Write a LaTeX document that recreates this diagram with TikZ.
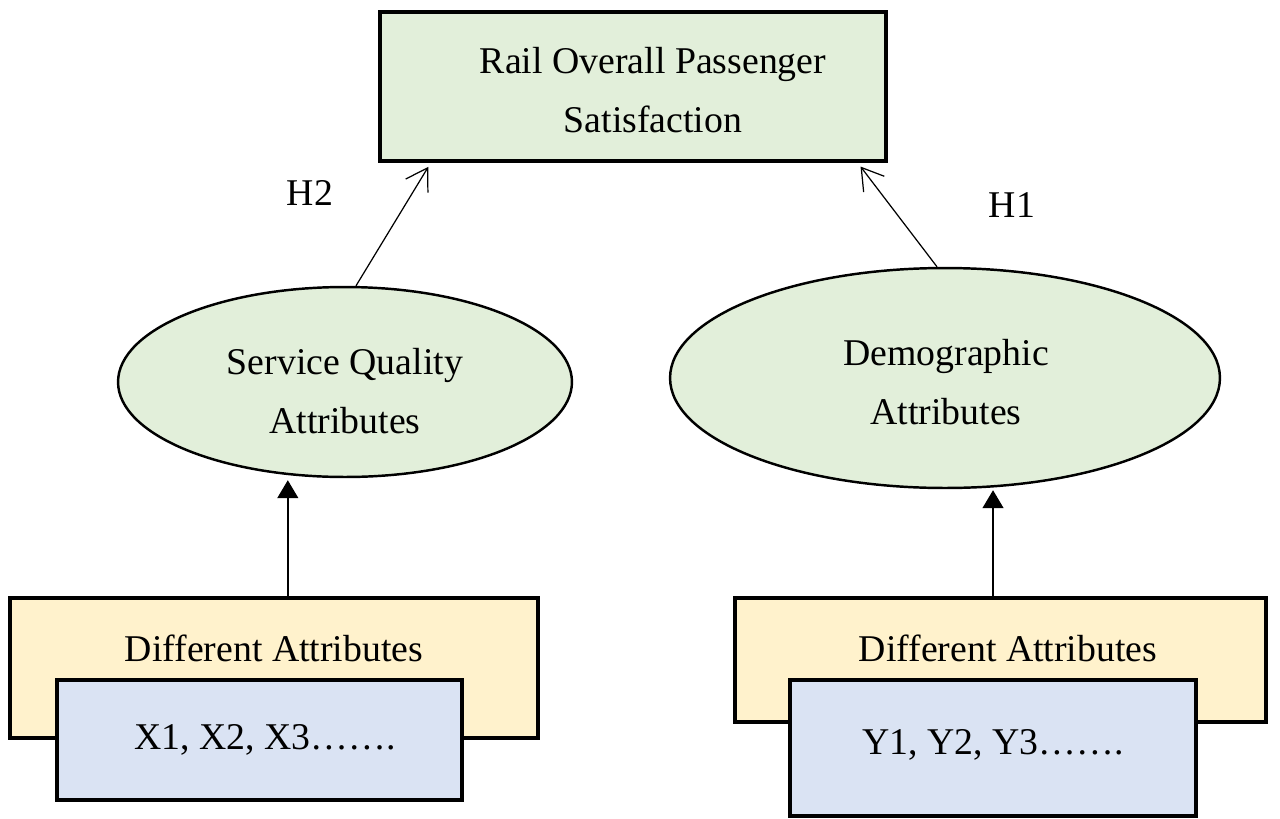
\documentclass[tikz,border=0pt]{standalone}
\usepackage{fontspec}
\setmainfont{Liberation Serif}
\usetikzlibrary{arrows.meta,shapes.geometric,calc}
\definecolor{boxgreen}{HTML}{E2EFDA}
\definecolor{boxyellow}{HTML}{FFF2CC}
\definecolor{boxblue}{HTML}{DAE3F3}
\begin{document}
\begin{tikzpicture}[x=0.02cm,y=-0.02cm,
  every node/.style={font=\fontsize{21.5}{34}\selectfont, align=center},
  rectbox/.style={draw=black, line width=1.8pt, rectangle, inner sep=0pt},
  ellbox/.style={draw=black, line width=1.4pt, ellipse, fill=boxgreen, inner sep=0pt},
  plain/.style={inner sep=0pt},
  openarr/.style={-{Straight Barb[length=0.42cm,width=0.52cm]}, line width=0.7pt, shorten >=0.1cm},
  fillarr/.style={-{Triangle[width=0.42cm,length=0.36cm]}, line width=0.8pt},
]
\useasboundingbox (0,0) rectangle (1280,818);
\fill[white] (0,0) rectangle (1280,818);

% top box
\node[rectbox, fill=boxgreen, minimum width=10.12cm, minimum height=2.98cm] (top) at (633,86.5) {};
\node[plain] (toptxt) at (653,90) {Rail Overall Passenger\\Satisfaction};

% ellipses
\node[ellbox, minimum width=9.08cm, minimum height=3.8cm] (lell) at (345,382) {};
\node[plain] (lelltxt) at (345,391) {Service Quality\\Attributes};
\node[ellbox, minimum width=11cm, minimum height=4.4cm] (rell) at (945,378) {};
\node[plain] (relltxt) at (946,382) {Demographic\\Attributes};

% bottom left
\node[rectbox, fill=boxyellow, minimum width=10.56cm, minimum height=2.8cm] (lyel) at (274,668) {};
\node[plain] (lyeltxt) at (274,648) {Different Attributes};
\node[rectbox, fill=boxblue, minimum width=8.1cm, minimum height=2.4cm] (lblue) at (259.5,740) {};
\node[plain] (lbluetxt) at (265,740) {X1, X2, X3…….};

% bottom right
\node[rectbox, fill=boxyellow, minimum width=10.62cm, minimum height=2.48cm] (ryel) at (1000.5,660) {};
\node[plain] (ryeltxt) at (1008,648) {Different Attributes};
\node[rectbox, fill=boxblue, minimum width=8.12cm, minimum height=2.72cm] (rblue) at (993,748) {};
\node[plain] (rbluetxt) at (993,745) {Y1, Y2, Y3…….};

% labels
\node[plain] (h2) at (310,193) {H2};
\node[plain] (h1) at (1012,205) {H1};

% connectors
\draw[openarr] ($(lell.north)+(11,0)$) -- ($(top.south west)!0.103!(top.south east)$);
\draw[openarr] ($(rell.north)+(-8,0)$) -- ($(top.south west)!0.941!(top.south east)$);

\coordinate (la) at ($(lyel.north west)!0.526!(lyel.north east)$);
\draw[fillarr, shorten >=0.04cm] (la) -- (la |- lell.south);
\coordinate (ra) at ($(ryel.north west)!0.486!(ryel.north east)$);
\draw[fillarr, shorten >=0.02cm] (ra) -- (ra |- rell.south);
\end{tikzpicture}
\end{document}
